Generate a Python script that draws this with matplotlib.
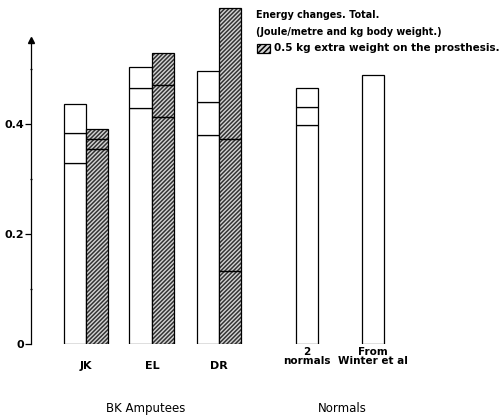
import matplotlib
matplotlib.use("Agg")
import matplotlib.pyplot as plt
from matplotlib.patches import Rectangle
import numpy as np

# energy per metre and kg body weight, levels of the lines inside each bar (top last)
amputees = ["JK", "EL", "DR"]
plain_levels = [[0.329, 0.384, 0.436],
                [0.429, 0.465, 0.504],
                [0.380, 0.440, 0.496]]
weighted_levels = [[0.355, 0.373, 0.391],
                   [0.413, 0.471, 0.529],
                   [0.133, 0.373, 0.611]]
normal_labels = ["2\nnormals", "From\nWinter et al"]
normal_levels = [[0.398, 0.431, 0.465],
                 [0.489]]

plt.rcParams['hatch.linewidth'] = 1.1

fig = plt.figure(figsize=(5, 4.15), dpi=100)
ax = fig.add_axes([31/500, 71/415, 469/500, 344/415])

w = 0.338
pair_x = np.array([0, 0.992, 2.0])
normal_x = np.array([3.32, 4.32])


def stacked(x, levels, hatch=None):
    if hatch:
        # hatch fill first, drawn in dark grey on light grey
        ax.bar(x, levels[-1], width=w, color='#d4d4d4', edgecolor='#333333',
               linewidth=0, hatch=hatch)
    bottom = 0
    for lv in levels:
        ax.bar(x, lv - bottom, width=w, bottom=bottom,
               color='none' if hatch else 'white',
               edgecolor='black', linewidth=0.9)
        bottom = lv


for i in range(len(amputees)):
    stacked(pair_x[i] - w/2, plain_levels[i])
    stacked(pair_x[i] + w/2, weighted_levels[i], hatch='////////')
for i in range(len(normal_labels)):
    stacked(normal_x[i], normal_levels[i])

ax.set_xlim(-0.827, 6.226)
ax.set_ylim(0, 0.6255)

for s in ['top', 'right', 'bottom']:
    ax.spines[s].set_visible(False)
ax.spines['left'].set_bounds(0, 0.552)
ax.spines['left'].set_linewidth(0.9)
ax.plot([-0.827], [0.553], marker='^', color='black', markersize=5, clip_on=False)

ax.set_yticks([0, 0.2, 0.4], ['0', '0.2', '0.4'])
ax.set_yticks([0.1, 0.3, 0.5], minor=True)
ax.tick_params(axis='y', which='major', length=4, width=0.9, labelsize=8, pad=1)
ax.tick_params(axis='y', which='minor', length=2, width=0.9, direction='inout')
for t in ax.get_yticklabels():
    t.set_fontweight('bold')

ax.set_xticks(list(pair_x) + list(normal_x), amputees + normal_labels)
ax.tick_params(axis='x', length=0, labelsize=7.5)
for i, tick in enumerate(ax.xaxis.get_major_ticks()):
    tick.label1.set_fontweight('bold')
    if i < 3:
        tick.set_pad(12)
        tick.label1.set_fontsize(8)
    else:
        tick.set_pad(2)
        tick.label1.set_linespacing(0.95)

fig.text(146/500, 1 - 408/415, "BK Amputees", ha='center', va='center', fontsize=8.5)
fig.text(342/500, 1 - 408/415, "Normals", ha='center', va='center', fontsize=8.5)

fig.text(256/500, 1 - 15/415, "Energy changes. Total.", ha='left', va='center',
         fontsize=6.9, fontweight='bold')
fig.text(256/500, 1 - 32/415, "(Joule/metre and kg body weight.)", ha='left', va='center',
         fontsize=6.9, fontweight='bold')
fig.patches.append(Rectangle((257/500, 1 - 53/415), 13/500, 9/415, transform=fig.transFigure,
                             facecolor='#d4d4d4', edgecolor='black', hatch='//////',
                             linewidth=0.9))
fig.text(274/500, 1 - 48/415, "0.5 kg extra weight on the prosthesis.", ha='left', va='center',
         fontsize=7.5, fontweight='bold')

fig.savefig("out.png", dpi=100)
